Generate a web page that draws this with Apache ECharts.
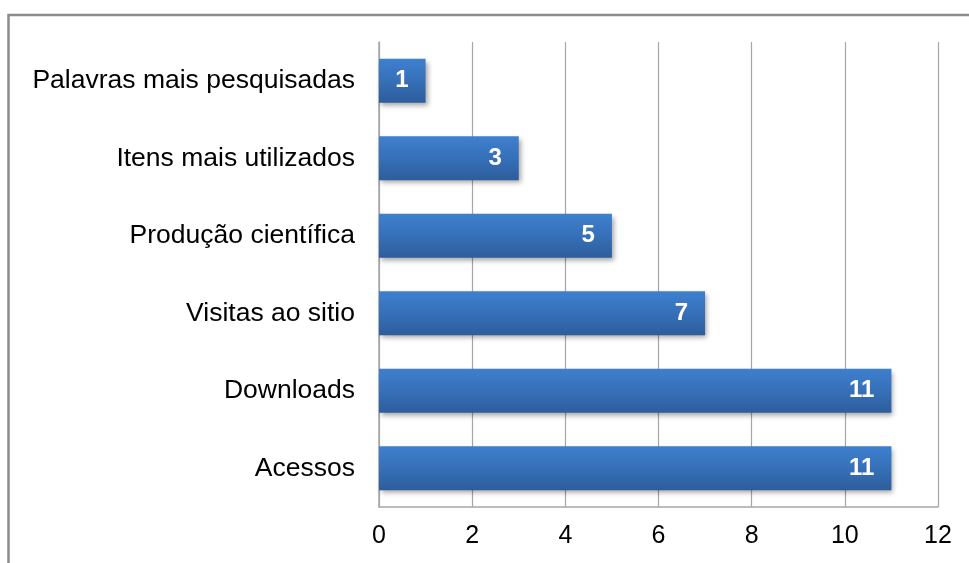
<!DOCTYPE html>
<html>
<head>
<meta charset="utf-8">
<script src="https://cdn.jsdelivr.net/npm/echarts@6/dist/echarts.min.js"></script>
<style>html,body{margin:0;padding:0;background:#fff}#c{width:969px;height:563px}</style>
</head>
<body>
<div id="c"></div>
<script>
var categories = ['Acessos', 'Downloads', 'Visitas ao sitio', 'Produção científica', 'Itens mais utilizados', 'Palavras mais pesquisadas'];
var values = [11, 11, 7, 5, 3, 1];
var xTicks = [0, 2, 4, 6, 8, 10, 12];

var chart = echarts.init(document.getElementById('c'));
chart.setOption({
  animation: false,
  backgroundColor: '#fff',
  graphic: [{
    type: 'rect',
    shape: { x: 8.5, y: 15, width: 1000, height: 600 },
    style: { fill: 'none', stroke: '#8c8c8c', lineWidth: 2.5 },
    silent: true
  }],
  grid: { left: 379, right: 31, top: 42, bottom: 56 },
  xAxis: {
    type: 'value',
    min: xTicks[0],
    max: xTicks[xTicks.length - 1],
    interval: 2,
    axisLine: { show: true, lineStyle: { color: '#a6a6a6', width: 1.5 } },
    axisTick: { show: false },
    axisLabel: { color: '#000', fontSize: 25, fontFamily: 'Liberation Sans, Arial', margin: 17 },
    splitLine: { show: true, lineStyle: { color: '#a6a6a6', width: 1.2 } }
  },
  yAxis: {
    type: 'category',
    data: categories,
    axisLine: { show: true, lineStyle: { color: '#a6a6a6', width: 1.5 } },
    axisTick: { show: false },
    axisLabel: { color: '#000', fontSize: 26.5, fontFamily: 'Liberation Sans, Arial', margin: 24 }
  },
  series: [{
    type: 'bar',
    data: values,
    barWidth: '57%',
    itemStyle: {
      color: new echarts.graphic.LinearGradient(0, 0, 0, 1, [
        { offset: 0, color: '#3e80cf' },
        { offset: 0.5, color: '#3670b8' },
        { offset: 1, color: '#2d5d9c' }
      ]),
      shadowColor: 'rgba(0,0,0,0.35)',
      shadowBlur: 5,
      shadowOffsetX: 2,
      shadowOffsetY: 3
    },
    label: {
      show: true,
      position: 'insideRight',
      distance: 17,
      color: '#fff',
      fontWeight: 'bold',
      fontSize: 24,
      fontFamily: 'Liberation Sans, Arial'
    }
  }]
});
</script>
</body>
</html>
